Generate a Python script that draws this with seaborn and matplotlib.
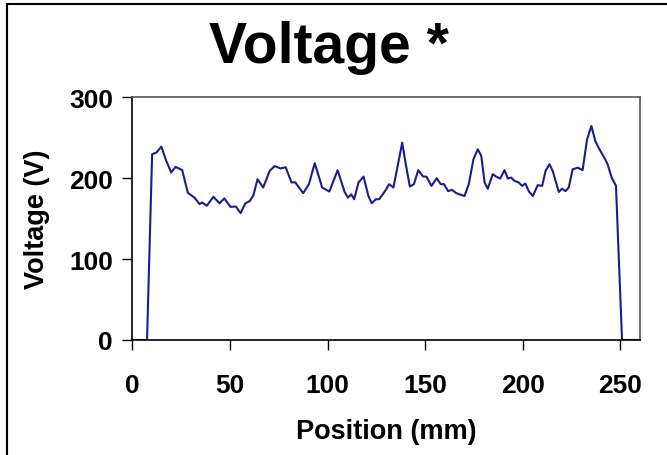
import matplotlib
matplotlib.use("Agg")
import matplotlib.pyplot as plt
import seaborn as sns
import pandas as pd
from matplotlib.lines import Line2D

position_mm = [0, 7.5, 10.1, 12.3, 14.8, 17.4, 19.9, 22.1, 25.5, 28.4, 31.8, 34.4, 35.7,
               38.1, 41.5, 44.6, 47.1, 50.2, 53.0, 55.4, 57.8, 60.2, 62.0, 64.1, 67.0,
               70.3, 72.9, 75.9, 78.5, 81.5, 83.4, 85.3, 87.5, 90.4, 93.4, 97.2, 100.9,
               105.1, 108.7, 110.4, 112.1, 113.6, 115.8, 118.4, 120.9, 122.6, 124.7,
               126.4, 129.4, 131.5, 133.7, 136.2, 138.2, 139.9, 142.1, 144.2, 146.4,
               148.9, 150.6, 153.2, 155.9, 157.9, 159.6, 161.7, 163.7, 165.9, 167.6,
               170.1, 172.3, 174.7, 176.9, 178.7, 180.4, 182.0, 184.6, 186.3, 188.4,
               190.6, 192.3, 194.0, 195.7, 197.9, 199.6, 201.3, 203.0, 205.1, 207.6,
               209.9, 211.6, 213.6, 215.3, 218.4, 220.1, 221.8, 223.5, 225.5, 228.1,
               230.6, 232.9, 235.1, 237.1, 239.2, 241.7, 243.4, 245.5, 247.7, 249.1,
               250.8, 260]
voltage_v = [0, 0, 229.6, 231.7, 239, 221, 207, 214, 210, 182, 176, 168, 170,
             166, 177, 169, 175, 164.6, 165, 156.8, 168.7, 172, 179, 198.8, 188.5,
             209, 215, 212, 213.6, 194.7, 195, 188.5, 181.5, 192.6, 218.5, 188.5, 183.5,
             209.9, 183, 176, 180, 174, 194.7, 202, 178, 169, 174,
             174, 184, 192.6, 188.5, 219, 244, 219, 189.7, 192.6, 210,
             202, 202, 190.5, 200, 192.6, 192.6, 184, 185.6, 181.5, 180,
             178, 192.6, 223.5, 235.8, 227.5, 194.7, 187, 205, 202, 199.6,
             210, 199.6, 200.8, 196.7, 194.7, 190.5, 193.4, 184, 178, 191.4,
             190.5, 209, 217.3, 209, 183, 187, 184, 188.5, 211, 213,
             210, 248, 264.6, 246, 235.8, 225.5, 217.3, 200.8, 190.5, 104,
             0, 0]
x_ticks = [0, 50, 100, 150, 200, 250]
y_ticks = [0, 100, 200, 300]

df = pd.DataFrame({"Position (mm)": position_mm, "Voltage (V)": voltage_v})

sns.set_style("white")
plt.rcParams['font.family'] = ['Liberation Sans', 'DejaVu Sans']
plt.rcParams['font.weight'] = 'bold'
plt.rcParams['text.color'] = 'black'
plt.rcParams['axes.labelcolor'] = 'black'
plt.rcParams['xtick.color'] = 'black'
plt.rcParams['ytick.color'] = 'black'

W, H = 667, 456
fig = plt.figure(figsize=(W / 100, H / 100), dpi=100)
ax = fig.add_axes([132.4 / W, 1 - 341 / H, (640 - 132.4) / W, (341 - 98.3) / H])

sns.lineplot(data=df, x="Position (mm)", y="Voltage (V)", ax=ax,
             color="#1c1c8e", linewidth=1.5, solid_joinstyle='round')

ax.set_xlim(0, 260)
ax.set_ylim(0, 300)
ax.set_xticks(x_ticks)
ax.set_yticks(y_ticks)
ax.set_xticklabels([str(v) for v in x_ticks], fontsize=19, fontweight='bold')
ax.set_yticklabels([str(v) for v in y_ticks], fontsize=19, fontweight='bold')
ax.tick_params(axis='x', direction='out', length=7, width=1, colors='black', pad=17,
               bottom=True)
ax.tick_params(axis='y', direction='out', length=7, width=1, colors='black', pad=7,
               left=True)
ax.set_xlabel("Position (mm)", fontsize=19.5, fontweight='bold', labelpad=15)
ax.set_ylabel("Voltage (V)", fontsize=19.5, fontweight='bold', labelpad=14)

for s in ['left', 'bottom']:
    ax.spines[s].set_color('black')
    ax.spines[s].set_linewidth(1.2)
for s in ['top', 'right']:
    ax.spines[s].set_color('#555555')
    ax.spines[s].set_linewidth(1.2)
    ax.spines[s].set_visible(True)

fig.text(329 / W, 1 - 48 / H, "Voltage *", fontsize=41, fontweight='bold',
         ha='center', va='center', color='black')

# outer chart frame (right/bottom edges fall outside the image)
fig.add_artist(Line2D([6.5 / W, 1.0], [1 - 5 / H, 1 - 5 / H], transform=fig.transFigure,
                      color='black', linewidth=1.5))
fig.add_artist(Line2D([6.5 / W, 6.5 / W], [0, 1 - 5 / H], transform=fig.transFigure,
                      color='black', linewidth=1.5))

fig.savefig("out.png", dpi=100)
